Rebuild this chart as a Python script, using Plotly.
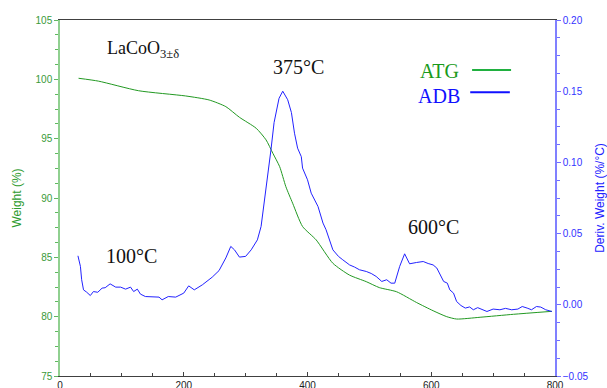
import plotly.graph_objects as go

# ATG (weight %) curve
T_atg = [30, 62, 127, 203, 241, 268, 290, 317, 333, 344, 355, 365, 376, 392,
         414, 441, 468, 495, 516, 544, 576, 603, 625, 641, 679, 733, 795]
w_atg = [100.09, 99.85, 99.04, 98.6, 98.26, 97.7, 96.8, 95.88, 94.9, 93.77, 92.64,
         90.96, 89.56, 87.6, 86.47, 84.5, 83.5, 82.95, 82.45, 82.1, 81.2, 80.5,
         80.0, 79.8, 79.95, 80.2, 80.45]

# ADB (derivative weight %/°C) curve
T_adb = [29, 33, 35, 38, 43, 49, 54, 61, 68, 73, 81, 90, 98, 106, 114, 119, 125,
         130, 138, 155, 160, 165, 175, 187, 200, 208, 217, 230, 246, 257, 268,
         276, 282, 290, 300, 309, 319, 325, 330, 336, 341, 346, 354, 360, 368,
         374, 379, 384, 390, 392, 400, 406, 417, 425, 430, 441, 450, 457, 468,
         476, 484, 495, 503, 511, 520, 528, 535, 541, 549, 557, 565, 576, 587,
         595, 603, 609, 614, 620, 626, 630, 636, 641, 648, 655, 662, 668, 675,
         682, 690, 700, 711, 720, 730, 740, 747, 755, 762, 770, 777, 785, 795]
d_adb = [0.0344, 0.027, 0.0176, 0.0105, 0.0089, 0.0065, 0.0093, 0.0088, 0.0117,
         0.012, 0.0147, 0.0124, 0.0124, 0.011, 0.0124, 0.0093, 0.011, 0.0075,
         0.0058, 0.0054, 0.0054, 0.0035, 0.0058, 0.0054, 0.0082, 0.0133, 0.0105,
         0.014, 0.0194, 0.024, 0.0329, 0.041, 0.0386, 0.0335, 0.034, 0.0386,
         0.0456, 0.055, 0.071, 0.09, 0.109, 0.128, 0.145, 0.15, 0.144, 0.135,
         0.1205, 0.11, 0.104, 0.096, 0.0878, 0.0784, 0.069, 0.0574, 0.0527,
         0.0386, 0.034, 0.0316, 0.028, 0.0265, 0.0246, 0.0234, 0.022, 0.0199,
         0.0164, 0.0176, 0.0152, 0.0152, 0.027, 0.0358, 0.0288, 0.0297, 0.0304,
         0.029, 0.028, 0.0258, 0.0220, 0.0164, 0.0152, 0.0105, 0.0082, 0.0023,
         -0.0005, -0.0023, -0.0015, -0.0035, -0.002, -0.0035, -0.0047, -0.003,
         -0.0035, -0.0025, -0.0035, -0.003, -0.0012, -0.0023, -0.0035, -0.0012,
         -0.0016, -0.0035, -0.0047]

x_ticks = [0, 200, 400, 600, 800]

fig = go.Figure()
fig.add_trace(go.Scatter(x=T_atg, y=w_atg, mode="lines", name="ATG",
                         line=dict(color="#229922", width=1, shape="spline", smoothing=0.6),
                         yaxis="y"))
fig.add_trace(go.Scatter(x=T_adb, y=d_adb, mode="lines", name="ADB",
                         line=dict(color="#2222ff", width=1), yaxis="y2"))

tickfont = dict(family="Liberation Sans, Arial", size=10)
serif = "Liberation Serif, Times New Roman, serif"

fig.update_layout(
    width=607, height=388, showlegend=False,
    paper_bgcolor="white", plot_bgcolor="white",
    margin=dict(l=60, r=52, t=20, b=12),
    xaxis=dict(range=[0, 800], tickvals=x_ticks, ticks="inside", ticklen=4,
               tickcolor="#404040", linecolor="#404040", linewidth=1,
               showline=True, mirror=True, showgrid=False, zeroline=False,
               minor=dict(dtick=50, ticks="inside", ticklen=3, tickcolor="#404040"),
               tickfont=dict(tickfont, color="#222222"), automargin=False),
    yaxis=dict(range=[75, 105], dtick=5, ticks="outside", ticklen=4,
               tickcolor="#60b860", linecolor="#90d090", linewidth=1.5,
               showline=True, showgrid=False, zeroline=False,
               minor=dict(dtick=1.25, ticks="outside", ticklen=3, tickcolor="#60b860"),
               tickfont=dict(tickfont, color="#3a9a3a"),
               title=dict(text="Weight (%)", font=dict(family="Liberation Sans, Arial", size=12, color="#2e9b2e"), standoff=11),
               automargin=False),
    yaxis2=dict(range=[-0.05, 0.20], dtick=0.05, tickformat=".2f", overlaying="y",
                side="right", ticks="outside", ticklen=4, tickcolor="#6f6fff",
                linecolor="#8080ff", linewidth=1.5, showline=True, showgrid=False,
                zeroline=False,
                minor=dict(dtick=0.0125, ticks="outside", ticklen=3, tickcolor="#6f6fff"),
                tickfont=dict(tickfont, color="#3333ff"),
                title=dict(text="Deriv. Weight (%/°C)", font=dict(family="Liberation Sans, Arial", size=12, color="#2222ff"), standoff=8),
                automargin=False),
)

ann = [
    dict(text="LaCoO<sub>3±δ</sub>", x=73, y=102.5, xanchor="left", color="#111111", size=18),
    dict(text="375°C", x=385, y=101.0, xanchor="center", color="#111111", size=20),
    dict(text="100°C", x=116, y=85.1, xanchor="center", color="#111111", size=20),
    dict(text="600°C", x=603, y=87.55, xanchor="center", color="#111111", size=20),
    dict(text="ATG", x=613, y=100.7, xanchor="center", color="#1a9a1a", size=20),
    dict(text="ADB", x=613, y=98.6, xanchor="center", color="#1010ff", size=20),
]
for a in ann:
    fig.add_annotation(x=a["x"], y=a["y"], xref="x", yref="y", text=a["text"],
                       showarrow=False, xanchor=a["xanchor"], yanchor="middle",
                       font=dict(family=serif, size=a["size"], color=a["color"]))

# legend key lines
fig.add_shape(type="line", xref="x", yref="y", x0=666, x1=729, y0=100.79, y1=100.79,
              line=dict(color="#20b040", width=2))
fig.add_shape(type="line", xref="x", yref="y", x0=663, x1=727, y0=98.91, y1=98.91,
              line=dict(color="#1010ff", width=2))

fig.write_html("out.html", config={"displayModeBar": False},
               post_script="document.body.style.margin='0';document.body.style.overflow='hidden';")
